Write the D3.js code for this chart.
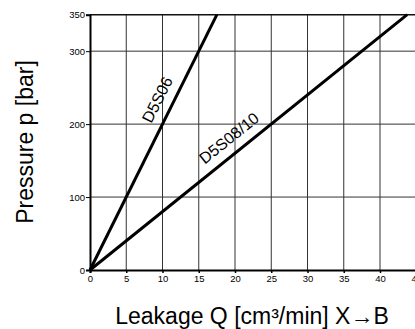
<!DOCTYPE html>
<html>
<head>
<meta charset="utf-8">
<script src="https://cdn.jsdelivr.net/npm/d3@7"></script>
<style>
  html, body { margin: 0; padding: 0; background: #fff; }
  svg { display: block; }
</style>
</head>
<body>
<div id="chart"></div>
<script>
// values
const xTicks = [0, 5, 10, 15, 20, 25, 30, 35, 40, 45];
const yTicks = [0, 100, 200, 300, 350];
const seriesNames = ['D5S06', 'D5S08/10'];
const d5s06Q = [0, 17.5];
const d5s06P = [0, 350];
const d5s08Q = [0, 43.75];
const d5s08P = [0, 350];
// where along each line the label starts (Q value)
const labelStartQ = [9.7, 16.7];

const width = 415, height = 329;
const margin = { top: 14.7, left: 90, bottom: 59 };

const svg = d3.select('#chart').append('svg')
  .attr('width', width)
  .attr('height', height);

const x = d3.scaleLinear().domain([0, 45]).range([margin.left, 416.25]);
const y = d3.scaleLinear().domain([0, 350]).range([height - margin.bottom, margin.top]);

const tickFont = '"Liberation Sans Narrow", "Arial Narrow", sans-serif';
const labelFont = '"Liberation Sans", Arial, Helvetica, sans-serif';

// --- grid ---
svg.append('g')
  .selectAll('line')
  .data(xTicks.filter(d => d > 0))
  .enter().append('line')
  .attr('x1', d => x(d)).attr('x2', d => x(d))
  .attr('y1', y(0)).attr('y2', y(350))
  .attr('stroke', '#333')
  .attr('stroke-width', 1);

svg.append('g')
  .selectAll('line')
  .data(yTicks.filter(d => d > 0))
  .enter().append('line')
  .attr('x1', x(0)).attr('x2', x(45))
  .attr('y1', d => y(d)).attr('y2', d => y(d))
  .attr('stroke', d => d === 350 ? '#111' : '#333')
  .attr('stroke-width', d => d === 350 ? 1.5 : 1);

// --- axes ---
const yAxis = svg.append('g')
  .attr('transform', `translate(${x(0)},0)`)
  .call(d3.axisLeft(y).tickValues(yTicks).tickSize(4).tickPadding(1))
  .call(g => g.select('.domain').attr('stroke', '#000').attr('stroke-width', 2));
yAxis.selectAll('.tick line').attr('stroke', '#000').attr('stroke-width', 1);
yAxis.selectAll('text')
  .attr('fill', '#000')
  .style('font-size', '9.5px')
  .style('font-family', tickFont);

const xAxis = svg.append('g')
  .attr('transform', `translate(0,${y(0)})`)
  .call(d3.axisBottom(x).tickValues(xTicks).tickSize(3).tickPadding(2))
  .call(g => g.select('.domain').attr('stroke', '#000').attr('stroke-width', 2));
xAxis.selectAll('.tick line').attr('stroke', '#000').attr('stroke-width', 1.5);
xAxis.selectAll('text')
  .attr('fill', '#000')
  .style('font-size', '9.5px')
  .style('font-family', tickFont);

// --- data lines ---
const series = [
  d3.zip(d5s06Q, d5s06P),
  d3.zip(d5s08Q, d5s08P)
];

const line = d3.line()
  .x(d => x(d[0]))
  .y(d => y(d[1]));

svg.append('g')
  .selectAll('path')
  .data(series)
  .enter().append('path')
  .attr('d', line)
  .attr('fill', 'none')
  .attr('stroke', '#000')
  .attr('stroke-width', 3)
  .attr('stroke-linecap', 'butt');

// --- line labels, parallel to the lines ---
series.forEach((pts, i) => {
  const [q0, p0] = pts[0];
  const [q1, p1] = pts[1];
  const slope = (p1 - p0) / (q1 - q0);
  const q = labelStartQ[i];
  const px = x(q), py = y(p0 + slope * (q - q0));
  const angle = Math.atan2(y(p1) - y(p0), x(q1) - x(q0)) * 180 / Math.PI;
  svg.append('text')
    .attr('transform', `translate(${px},${py}) rotate(${angle})`)
    .attr('dy', -10)
    .attr('fill', '#000')
    .style('font-size', '16px')
    .style('font-family', labelFont)
    .text(seriesNames[i]);
});

// --- axis titles ---
svg.append('text')
  .attr('transform', 'translate(33,142) rotate(-90)')
  .attr('text-anchor', 'middle')
  .attr('fill', '#000')
  .style('font-size', '23px')
  .style('font-family', labelFont)
  .text('Pressure p [bar]');

svg.append('text')
  .attr('x', 252)
  .attr('y', 324)
  .attr('text-anchor', 'middle')
  .attr('fill', '#000')
  .style('font-size', '23px')
  .style('font-family', labelFont)
  .text('Leakage Q [cm³/min] X→B');
</script>
</body>
</html>
